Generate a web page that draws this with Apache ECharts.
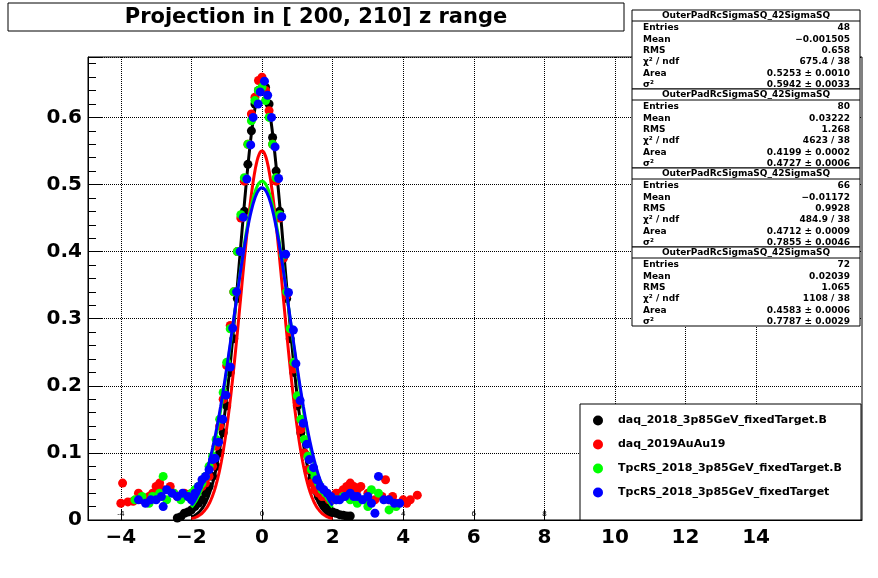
<!DOCTYPE html>
<html>
<head>
<meta charset="utf-8">
<script src="https://cdn.jsdelivr.net/npm/echarts@6/dist/echarts.min.js"></script>
<style>html,body{margin:0;padding:0;background:#fff}#main{width:878px;height:578px}</style>
</head>
<body>
<div id="main"></div>
<script>
var names = ['daq_2018_3p85GeV_fixedTarget.B', 'daq_2019AuAu19', 'TpcRS_2018_3p85GeV_fixedTarget.B', 'TpcRS_2018_3p85GeV_fixedTarget'];
var colors = ['#000000', '#ff0000', '#00ff00', '#0000ff'];
var xTicks = [-4, -2, 0, 2, 4, 6, 8, 10, 12, 14];

// data points [x, y]
var blackPts = [[-2.4,0.003],[-2.3,0.005],[-2.2,0.01],[-2.1,0.012],[-2.0,0.015],[-1.9,0.02],[-1.8,0.025],[-1.7,0.03],[-1.6,0.04],[-1.5,0.05],[-1.4,0.065],[-1.3,0.08],[-1.2,0.1],[-1.1,0.13],[-1.0,0.17],[-0.9,0.22],[-0.8,0.27],[-0.7,0.33],[-0.6,0.40],[-0.5,0.46],[-0.4,0.53],[-0.3,0.58],[-0.2,0.62],[-0.1,0.64],[0,0.655],[0.1,0.645],[0.2,0.62],[0.3,0.57],[0.4,0.52],[0.5,0.46],[0.6,0.39],[0.7,0.33],[0.8,0.27],[0.9,0.22],[1.0,0.17],[1.1,0.13],[1.2,0.1],[1.3,0.075],[1.4,0.06],[1.5,0.045],[1.6,0.035],[1.7,0.027],[1.8,0.02],[1.9,0.016],[2.0,0.012],[2.1,0.01],[2.2,0.008],[2.3,0.007],[2.4,0.006],[2.5,0.006]];
var redPts = [[-4.0,0.025],[-3.95,0.055],[-3.8,0.027],[-3.65,0.028],[-3.5,0.04],[-3.4,0.03],[-3.2,0.035],[-3.1,0.04],[-3.0,0.05],[-2.9,0.055],[-2.8,0.045],[-2.6,0.05],[-2.5,0.04],[-2.4,0.035],[-2.3,0.035],[-2.2,0.04],[-2.1,0.038],[-2.0,0.035],[-1.9,0.04],[-1.8,0.045],[-1.7,0.05],[-1.6,0.055],[-1.5,0.065],[-1.4,0.08],[-1.3,0.11],[-1.2,0.14],[-1.1,0.18],[-1.0,0.23],[-0.9,0.29],[-0.8,0.34],[-0.7,0.40],[-0.6,0.45],[-0.5,0.505],[-0.4,0.56],[-0.3,0.605],[-0.2,0.63],[-0.1,0.655],[0,0.66],[0.1,0.64],[0.2,0.61],[0.3,0.56],[0.4,0.505],[0.5,0.45],[0.6,0.39],[0.7,0.335],[0.8,0.28],[0.9,0.225],[1.0,0.175],[1.1,0.135],[1.2,0.1],[1.3,0.075],[1.4,0.055],[1.5,0.045],[1.6,0.04],[1.7,0.035],[1.8,0.035],[1.9,0.03],[2.0,0.03],[2.1,0.04],[2.2,0.04],[2.3,0.045],[2.4,0.05],[2.5,0.055],[2.6,0.05],[2.7,0.045],[2.8,0.05],[3.0,0.04],[3.2,0.03],[3.4,0.035],[3.5,0.06],[3.6,0.03],[3.7,0.035],[3.8,0.025],[4.0,0.03],[4.1,0.025],[4.2,0.03],[4.4,0.037]];
var greenPts = [[-3.6,0.03],[-3.4,0.035],[-3.2,0.025],[-3.1,0.035],[-2.9,0.04],[-2.8,0.065],[-2.7,0.03],[-2.5,0.04],[-2.3,0.03],[-2.1,0.035],[-2.0,0.04],[-1.9,0.045],[-1.8,0.05],[-1.7,0.055],[-1.6,0.065],[-1.5,0.08],[-1.4,0.095],[-1.3,0.12],[-1.2,0.15],[-1.1,0.19],[-1.0,0.235],[-0.9,0.285],[-0.8,0.34],[-0.7,0.40],[-0.6,0.455],[-0.5,0.51],[-0.4,0.56],[-0.3,0.595],[-0.2,0.625],[-0.1,0.64],[0,0.645],[0.1,0.625],[0.2,0.6],[0.3,0.56],[0.4,0.51],[0.5,0.455],[0.6,0.395],[0.7,0.34],[0.8,0.285],[0.9,0.235],[1.0,0.185],[1.1,0.15],[1.2,0.12],[1.3,0.095],[1.4,0.075],[1.5,0.065],[1.6,0.055],[1.7,0.045],[1.8,0.04],[1.9,0.035],[2.1,0.03],[2.3,0.035],[2.5,0.03],[2.7,0.025],[2.9,0.03],[3.0,0.02],[3.1,0.045],[3.3,0.04],[3.6,0.015],[3.8,0.02]];
var bluePts = [[-3.5,0.03],[-3.3,0.025],[-3.15,0.03],[-3.0,0.03],[-2.85,0.035],[-2.8,0.02],[-2.7,0.045],[-2.55,0.04],[-2.4,0.035],[-2.25,0.04],[-2.1,0.035],[-2.0,0.03],[-1.9,0.04],[-1.8,0.05],[-1.7,0.06],[-1.6,0.065],[-1.5,0.075],[-1.4,0.09],[-1.33,0.092],[-1.23,0.116],[-1.11,0.15],[-1.02,0.186],[-0.9,0.228],[-0.83,0.286],[-0.72,0.34],[-0.62,0.40],[-0.53,0.451],[-0.43,0.508],[-0.32,0.559],[-0.25,0.60],[-0.11,0.62],[-0.05,0.638],[0.07,0.654],[0.16,0.633],[0.27,0.60],[0.37,0.556],[0.47,0.509],[0.56,0.452],[0.67,0.396],[0.75,0.339],[0.89,0.283],[0.96,0.233],[1.08,0.178],[1.17,0.144],[1.27,0.113],[1.34,0.09],[1.46,0.078],[1.55,0.06],[1.65,0.05],[1.75,0.045],[1.85,0.04],[1.95,0.035],[2.1,0.03],[2.2,0.03],[2.35,0.035],[2.5,0.04],[2.6,0.035],[2.7,0.035],[2.85,0.03],[3.0,0.035],[3.1,0.025],[3.2,0.01],[3.3,0.065],[3.45,0.03],[3.6,0.03],[3.75,0.025],[3.9,0.025]];
var allPts = [blackPts, redPts, greenPts, bluePts];

// gaussian fit parameters: [peak, sigma]
var fitPeak = [0.645, 0.55, 0.505, 0.495];
var fitSigma = [0.63, 0.6, 0.78, 0.8];

var statTitle = 'OuterPadRcSigmaSQ_42SigmaSQ';
var statLabels = ['Entries', 'Mean', 'RMS', 'χ² / ndf', 'Area', 'σ²'];
var statValues = [
  ['48', '\u22120.001505', '0.658', '675.4 / 38', '0.5253 ± 0.0010', '0.5942 ± 0.0033'],
  ['80', '0.03222', '1.268', '4623 / 38', '0.4199 ± 0.0002', '0.4727 ± 0.0006'],
  ['66', '\u22120.01172', '0.9928', '484.9 / 38', '0.4712 ± 0.0009', '0.7855 ± 0.0046'],
  ['72', '0.02039', '1.065', '1108 / 38', '0.4583 ± 0.0006', '0.7787 ± 0.0029']
];

function fitCurve(k) {
  var out = [];
  for (var i = 0; i <= 160; i++) {
    var x = -2 + i * 0.025;
    out.push([x, fitPeak[k] * Math.exp(-x * x / (2 * fitSigma[k] * fitSigma[k]))]);
  }
  return out;
}

var series = [];
for (var k = 0; k < 4; k++) {
  series.push({
    name: names[k], type: 'scatter', data: allPts[k], symbolSize: 9,
    itemStyle: {color: colors[k], opacity: 1}, z: 3 + k
  });
  series.push({
    name: names[k], type: 'line', data: fitCurve(k), showSymbol: false, smooth: true,
    lineStyle: {color: colors[k], width: 3}, itemStyle: {color: colors[k]}, z: 3 + k
  });
}

var graphic = [
  {type: 'rect', shape: {x: 8, y: 3, width: 616, height: 28}, style: {fill: '#fff', stroke: '#000', lineWidth: 1}},
  {type: 'text', x: 316, y: 18, style: {text: 'Projection in [ 200, 210] z range', font: 'bold 21px "DejaVu Sans"', fill: '#000', align: 'center', verticalAlign: 'middle'}},
  {type: 'rect', shape: {x: 580, y: 404, width: 281, height: 116}, style: {fill: '#fff', stroke: '#000', lineWidth: 1}, z: 10}
];
for (var b = 0; b < 4; b++) {
  var y0 = 10 + b * 79;
  graphic.push({type: 'rect', shape: {x: 632, y: y0, width: 228, height: 79}, style: {fill: '#fff', stroke: '#000', lineWidth: 1}, z: 10});
  graphic.push({type: 'line', shape: {x1: 632, y1: y0 + 11, x2: 860, y2: y0 + 11}, style: {stroke: '#000'}, z: 11});
  graphic.push({type: 'text', x: 746, y: y0 + 6, z: 11, style: {text: statTitle, font: 'bold 9px "DejaVu Sans"', fill: '#000', align: 'center', verticalAlign: 'middle'}});
  for (var r = 0; r < 6; r++) {
    var yy = y0 + 18 + r * 11.3;
    graphic.push({type: 'text', x: 643, y: yy, z: 11, style: {text: statLabels[r], font: 'bold 9px "DejaVu Sans"', fill: '#000', verticalAlign: 'middle'}});
    graphic.push({type: 'text', x: 850, y: yy, z: 11, style: {text: statValues[b][r], font: 'bold 9px "DejaVu Sans"', fill: '#000', align: 'right', verticalAlign: 'middle'}});
  }
}

var option = {
  animation: false,
  backgroundColor: '#fff',
  graphic: graphic,
  legend: {
    data: names, orient: 'vertical', left: 588, top: 410, itemGap: 13, itemWidth: 30, itemHeight: 10, z: 20,
    textStyle: {fontFamily: 'DejaVu Sans', fontWeight: 'bold', fontSize: 11, color: '#000'}
  },
  grid: {left: 88, right: 16, top: 57, bottom: 58, show: true, borderColor: '#000', borderWidth: 1},
  xAxis: [{
    type: 'value', min: -4.93, max: 17,
    axisLine: {lineStyle: {color: '#000'}},
    axisTick: {customValues: xTicks, length: 10, inside: true, lineStyle: {color: '#000'}},
    axisLabel: {customValues: xTicks, fontFamily: 'DejaVu Sans', fontWeight: 'bold', fontSize: 20, color: '#000', margin: 8,
      formatter: function (v) { return v < 0 ? '\u2212' + (-v) : '' + v; }},
    splitLine: {show: true, lineStyle: {type: 'dotted', color: '#000'}}
  }, {
    type: 'value', min: -4.93, max: 17, position: 'bottom',
    axisLine: {show: false}, axisTick: {show: false}, splitLine: {show: false},
    axisLabel: {customValues: xTicks, inside: true, fontSize: 8, color: '#000', margin: 2}
  }],
  yAxis: {
    type: 'value', min: 0, max: 0.69, interval: 0.1,
    axisLine: {show: true, onZero: false, lineStyle: {color: '#000'}},
    axisTick: {inside: true, length: 14, lineStyle: {color: '#000'}},
    minorTick: {show: true, splitNumber: 5, length: 8, lineStyle: {color: '#000'}},
    axisLabel: {fontFamily: 'DejaVu Sans', fontWeight: 'bold', fontSize: 20, color: '#000', margin: 6, showMaxLabel: false,
      formatter: function (v) { return v === 0 ? '0' : v.toFixed(1); }},
    splitLine: {show: true, lineStyle: {type: 'dotted', color: '#000'}}
  },
  series: series
};
echarts.init(document.getElementById('main')).setOption(option);
</script>
</body>
</html>
